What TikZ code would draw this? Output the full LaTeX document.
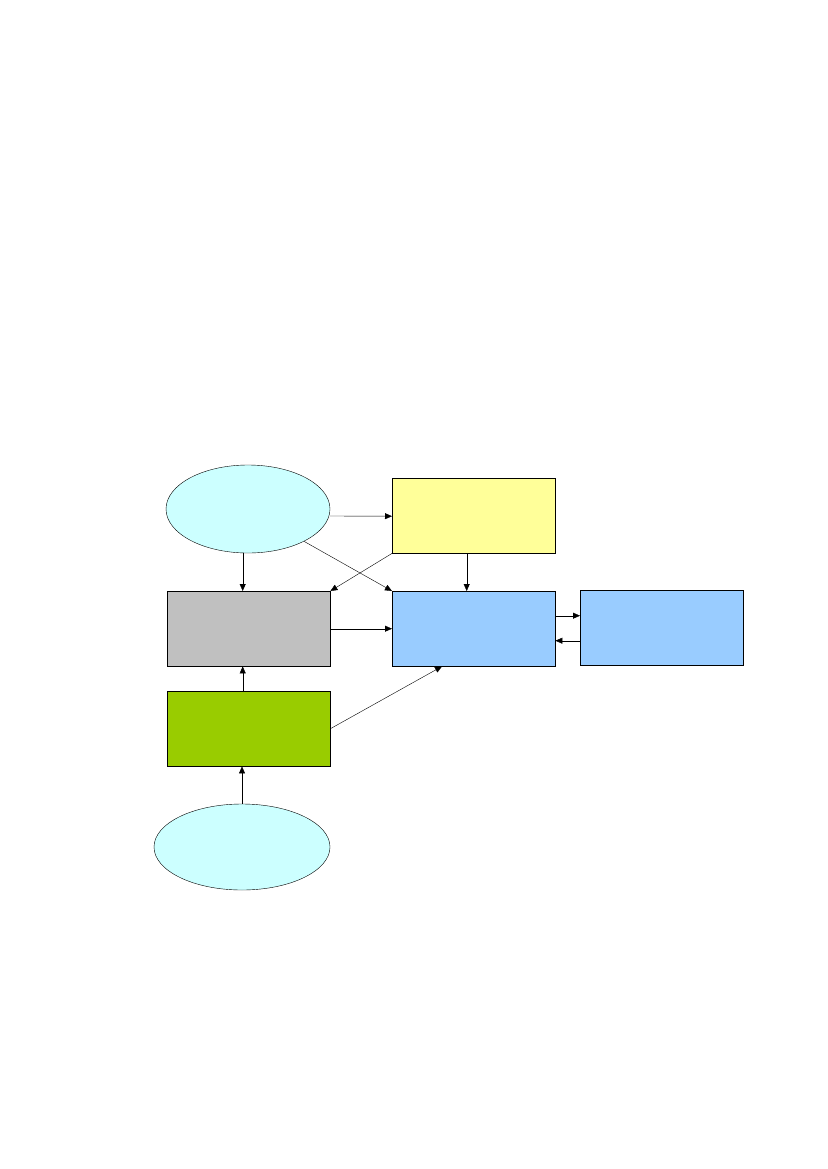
\documentclass[tikz,border=0pt]{standalone}
\usetikzlibrary{calc,arrows.meta,shapes.geometric}
\definecolor{cyanfill}{RGB}{204,255,255}
\definecolor{yelfill}{RGB}{255,255,153}
\definecolor{grayfill}{RGB}{192,192,192}
\definecolor{bluefill}{RGB}{153,204,255}
\definecolor{greenfill}{RGB}{153,204,0}
\begin{document}
\begin{tikzpicture}[x=1pt,y=-1pt,
    box/.style={draw,rectangle,minimum width=163pt,minimum height=75pt,anchor=north west,inner sep=0pt},
    oval/.style={draw,ellipse,fill=cyanfill,inner sep=0pt},
    link/.style={-{Triangle[length=7pt,width=6pt]},thin}]
    \useasboundingbox (0,0) rectangle (827,1169);

    \node[oval,minimum width=164pt,minimum height=88pt] (src) at (248,509) {};
    \node[box,fill=yelfill] (cfg) at (392,478) {};
    \node[box,fill=grayfill] (core) at (167,591) {};
    \node[box,fill=bluefill] (proc) at (392,591) {};
    \node[box,fill=bluefill] (ext) at (580,590) {};
    \node[box,fill=greenfill] (feed) at (167,691) {};
    \node[oval,minimum width=176pt,minimum height=86pt] (input) at (242,847) {};

    \draw[link] ($(src.east)+(0,7)$) -- ($(cfg.west)+(0,0.5)$);
    \draw[link] (src.-30) -- (proc.north west);
    \draw[link] (src.south -| core.north) ++(-6,0) coordinate (a) -- (a |- core.north);
    \draw[link] (cfg.south west) -- (core.north east);
    \draw[link] ($(cfg.south)+(-7,0)$) -- ($(proc.north)+(-7,0)$);
    \draw[link] (core.east) -- (proc.west);
    \draw[link] ($(proc.east)+(0,-13)$) -- ($(ext.west)+(0,-12)$);
    \draw[link] ($(ext.west)+(0,13)$) -- ($(proc.east)+(0,12)$);
    \draw[link] ($(feed.north)+(-6,0)$) -- ($(core.south)+(-6,0)$);
    \draw[link] (feed.east) -- ($(proc.south west)+(50,0)$);
    \draw[link] (input.north) -- (input.north |- feed.south);
\end{tikzpicture}
\end{document}
